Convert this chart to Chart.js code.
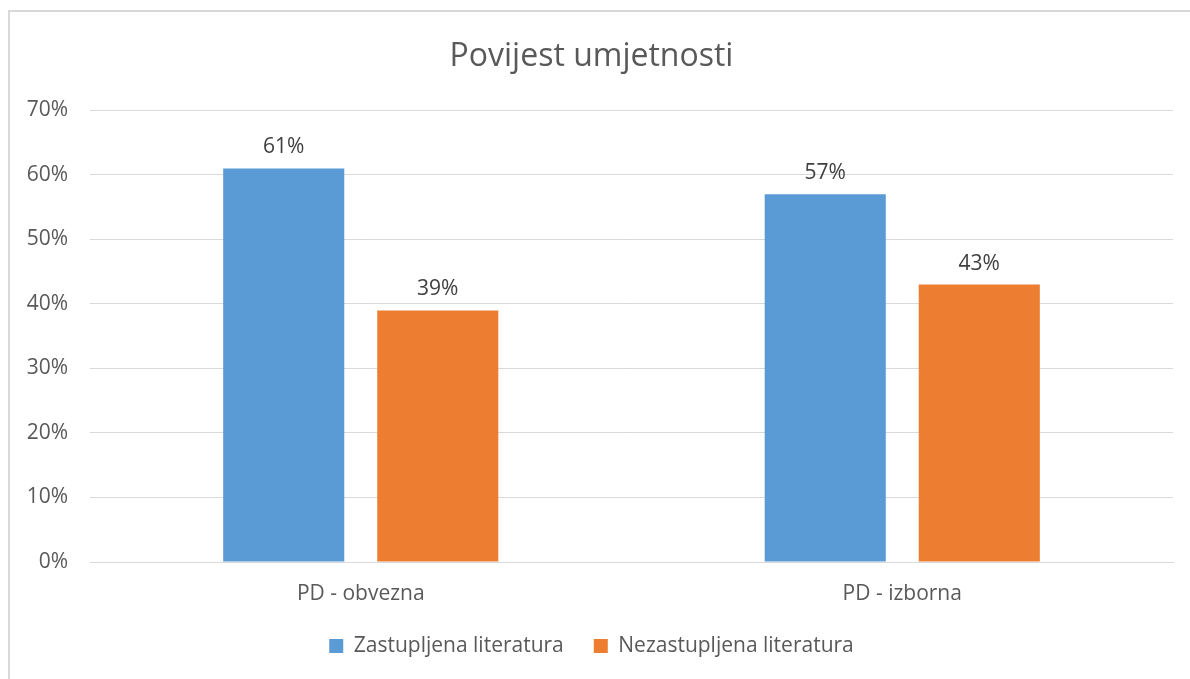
<!DOCTYPE html>
<html>
<head>
<meta charset="utf-8">
<script src="https://cdn.jsdelivr.net/npm/chart.js@4"></script>
<style>
    body { margin: 0; background: #fff; overflow: hidden; }
    .frame {
        position: absolute; left: 8px; top: 10px;
        width: 1200px; height: 700px;
        border: 2px solid #d9d9d9;
    }
    .chart-box { position: absolute; left: 10px; top: 12px; width: 1190px; height: 690px; }
</style>
</head>
<body>
<div class="frame"></div>
<div class="chart-box"><canvas id="chart"></canvas></div>
<script>
    const categories = ["PD - obvezna", "PD - izborna"];
    const zastupljena = [61, 57];
    const nezastupljena = [39, 43];
    const yTicks = [0, 10, 20, 30, 40, 50, 60, 70];

    const fontFamily = "'Open Sans', sans-serif";

    // Data labels above each bar
    const barLabels = {
        id: "barLabels",
        afterDatasetsDraw(chart) {
            const ctx = chart.ctx;
            ctx.save();
            ctx.font = "21px " + fontFamily;
            ctx.fillStyle = "#404040";
            ctx.textAlign = "center";
            ctx.textBaseline = "middle";
            chart.data.datasets.forEach((ds, i) => {
                chart.getDatasetMeta(i).data.forEach((bar, j) => {
                    ctx.fillText(ds.data[j] + "%", bar.x, bar.y - 21);
                });
            });
            ctx.restore();
        }
    };

    const ctx = document.getElementById("chart").getContext("2d");
    new Chart(ctx, {
        type: "bar",
        data: {
            labels: categories,
            datasets: [
                {
                    label: "Zastupljena literatura",
                    data: zastupljena,
                    backgroundColor: "#5b9bd5",
                },
                {
                    label: "Nezastupljena literatura",
                    data: nezastupljena,
                    backgroundColor: "#ed7d31",
                },
            ],
        },
        options: {
            responsive: true,
            maintainAspectRatio: false,
            animation: false,
            layout: { padding: { left: 0, right: 27, top: 0, bottom: 35.5 } },
            datasets: {
                bar: { categoryPercentage: 0.569, barPercentage: 0.786 }
            },
            plugins: {
                title: {
                    display: true,
                    text: "Povijest umjetnosti",
                    color: "#595959",
                    font: { family: fontFamily, size: 32, weight: "normal" },
                    padding: { top: 26, bottom: 34 },
                },
                legend: {
                    position: "bottom",
                    labels: {
                        color: "#595959",
                        font: { family: fontFamily, size: 21 },
                        boxWidth: 14,
                        boxHeight: 14,
                        padding: 30,
                    },
                },
                tooltip: { enabled: false },
            },
            scales: {
                x: {
                    grid: { display: false, drawTicks: false },
                    border: { display: true, color: "#d9d9d9", width: 1 },
                    ticks: {
                        color: "#595959",
                        font: { family: fontFamily, size: 21 },
                        padding: 19,
                    },
                    afterFit(scale) { scale.height = 43.5; },
                },
                y: {
                    min: 0,
                    max: 70,
                    grid: { color: "#d9d9d9", drawTicks: false },
                    border: { display: false },
                    afterBuildTicks(scale) {
                        scale.ticks = yTicks.map(v => ({ value: v }));
                    },
                    ticks: {
                        color: "#595959",
                        font: { family: fontFamily, size: 21 },
                        padding: 22,
                        callback: v => v + "%",
                    },
                    afterFit(scale) { scale.width = 80; },
                },
            },
        },
        plugins: [barLabels],
    });
</script>
</body>
</html>
